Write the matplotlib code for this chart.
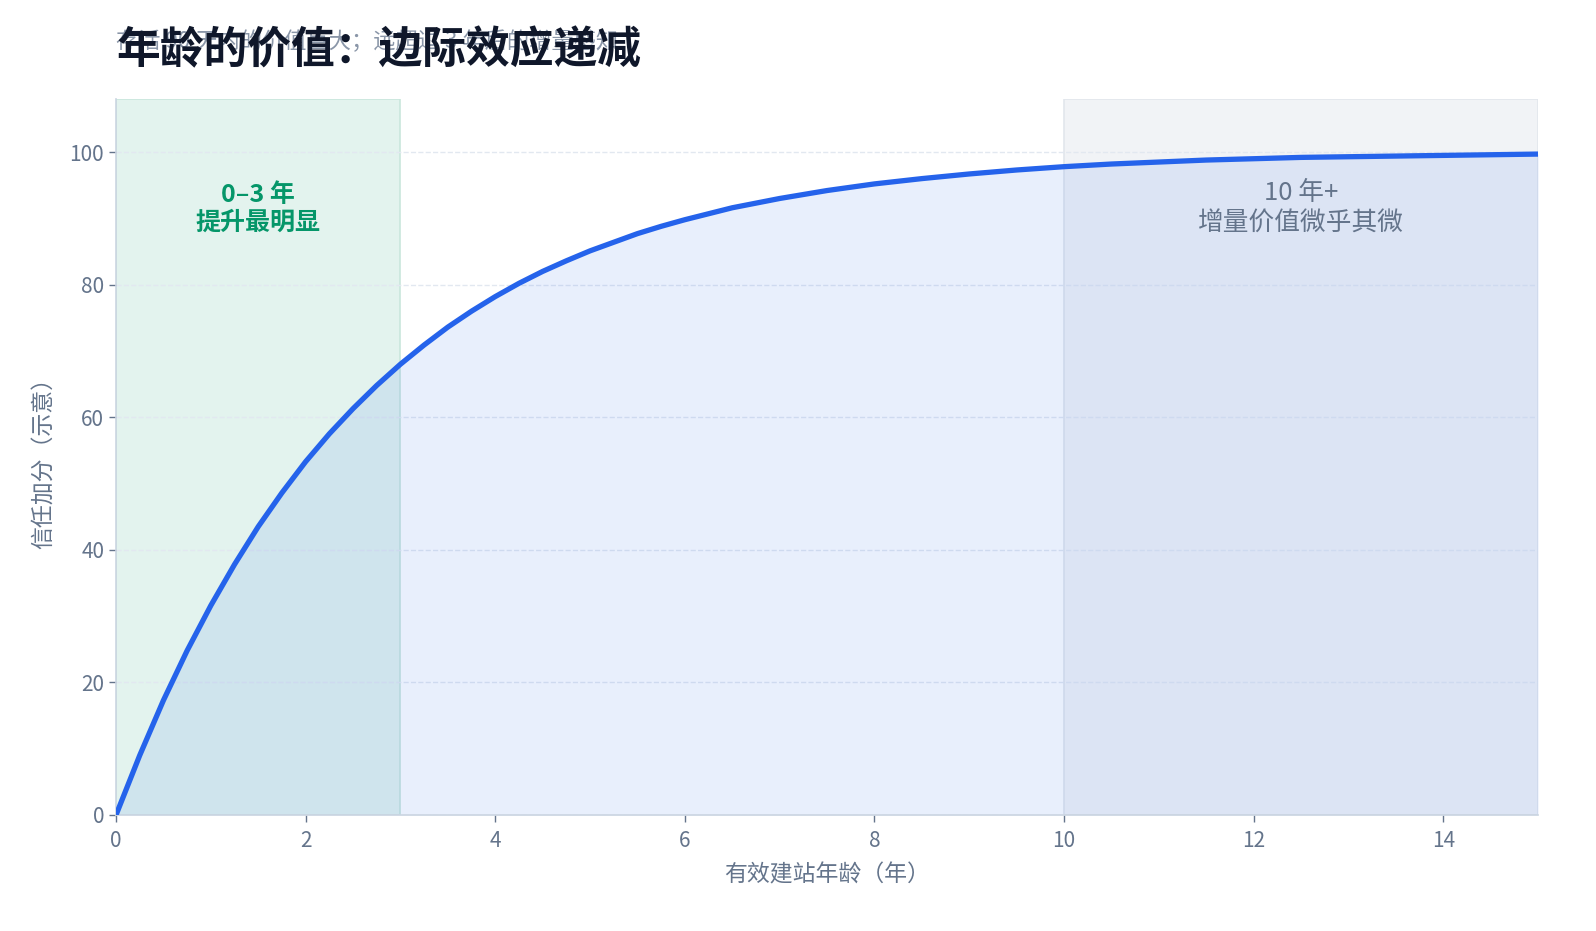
import matplotlib
matplotlib.use("Agg")
import matplotlib.pyplot as plt

plt.rcParams['font.family'] = ['Noto Sans CJK SC', 'DejaVu Sans']

# 读图估计的曲线点（年龄, 信任加分）
ages = [0, 0.25, 0.5, 0.75, 1, 1.25, 1.5, 1.75, 2, 2.25, 2.5, 2.75, 3, 3.25, 3.5, 3.75,
        4, 4.25, 4.5, 4.75, 5, 5.25, 5.5, 5.75, 6, 6.25, 6.5, 6.75, 7, 7.25, 7.5, 7.75,
        8, 8.5, 9, 9.5, 10, 10.5, 11, 11.5, 12, 12.5, 13, 13.5, 14, 14.5, 15]
trust = [0, 9.0, 17.3, 24.8, 31.6, 37.8, 43.5, 48.6, 53.3, 57.5, 61.3, 64.8, 68.0, 70.9,
         73.6, 76.0, 78.2, 80.2, 82.0, 83.6, 85.1, 86.4, 87.7, 88.8, 89.8, 90.7, 91.6,
         92.3, 93.0, 93.6, 94.2, 94.7, 95.2, 96.0, 96.7, 97.3, 97.8, 98.2, 98.5, 98.8,
         99.0, 99.2, 99.3, 99.4, 99.5, 99.6, 99.7]

early_zone = (0, 3)
late_zone = (10, 15)
x_ticks = [0, 2, 4, 6, 8, 10, 12, 14]
y_ticks = [0, 20, 40, 60, 80, 100]

title = "年龄的价值：边际效应递减"
subtitle = "存活 90 天内的价值巨大；远超过 3 年后的增量感知"

gray = '#64748b'

fig = plt.figure(figsize=(15.96, 9.31), dpi=100)
ax = fig.add_axes([0.0727, 0.1246, 0.891, 0.769])

ax.axvspan(*early_zone, facecolor='#e3f3ee', edgecolor='#c9e6dc', lw=1.2, zorder=0)
ax.axvspan(*late_zone, facecolor='#f1f3f6', edgecolor='#e2e6ec', lw=1.2, zorder=0)

ax.fill_between(ages, trust, 0, color='#2563eb', alpha=0.1, lw=0, zorder=1)
ax.plot(ages, trust, color='#2563eb', lw=3.8, solid_capstyle='round',
        solid_joinstyle='round', zorder=3)

ax.text(1.5, 91.5, "0–3 年\n提升最明显", ha='center', va='center', color='#059669',
        fontsize=18, fontweight='bold', linespacing=1.2, zorder=4)
ax.text(12.5, 91.5, "10 年+\n增量价值微乎其微", ha='center', va='center', color=gray,
        fontsize=18.5, linespacing=1.2, zorder=4)

ax.set_xlim(0, 15)
ax.set_ylim(0, 108)
ax.set_xticks(x_ticks)
ax.set_yticks(y_ticks)
ax.grid(axis='y', color='#e2e8f0', ls='--', lw=1, zorder=0)
ax.set_axisbelow(True)

for side in ['top', 'right']:
    ax.spines[side].set_visible(False)
for side in ['left', 'bottom']:
    ax.spines[side].set_color('#cbd5e1')
    ax.spines[side].set_linewidth(1.2)

ax.tick_params(colors=gray, labelsize=15, length=5, width=1)
ax.tick_params(axis='x', pad=6)
ax.set_xlabel("有效建站年龄（年）", color=gray, fontsize=16.5, labelpad=8)
ax.set_ylabel("信任加分（示意）", color=gray, fontsize=16.5, labelpad=10)

fig.text(0.0727, 0.955, subtitle, color='#8a96a8', fontsize=16, ha='left', va='center')
fig.text(0.0727, 0.946, title, color='#0f172a', fontsize=31.5, fontweight='bold',
         ha='left', va='center')

fig.savefig('out.png', dpi=100, facecolor='white')
